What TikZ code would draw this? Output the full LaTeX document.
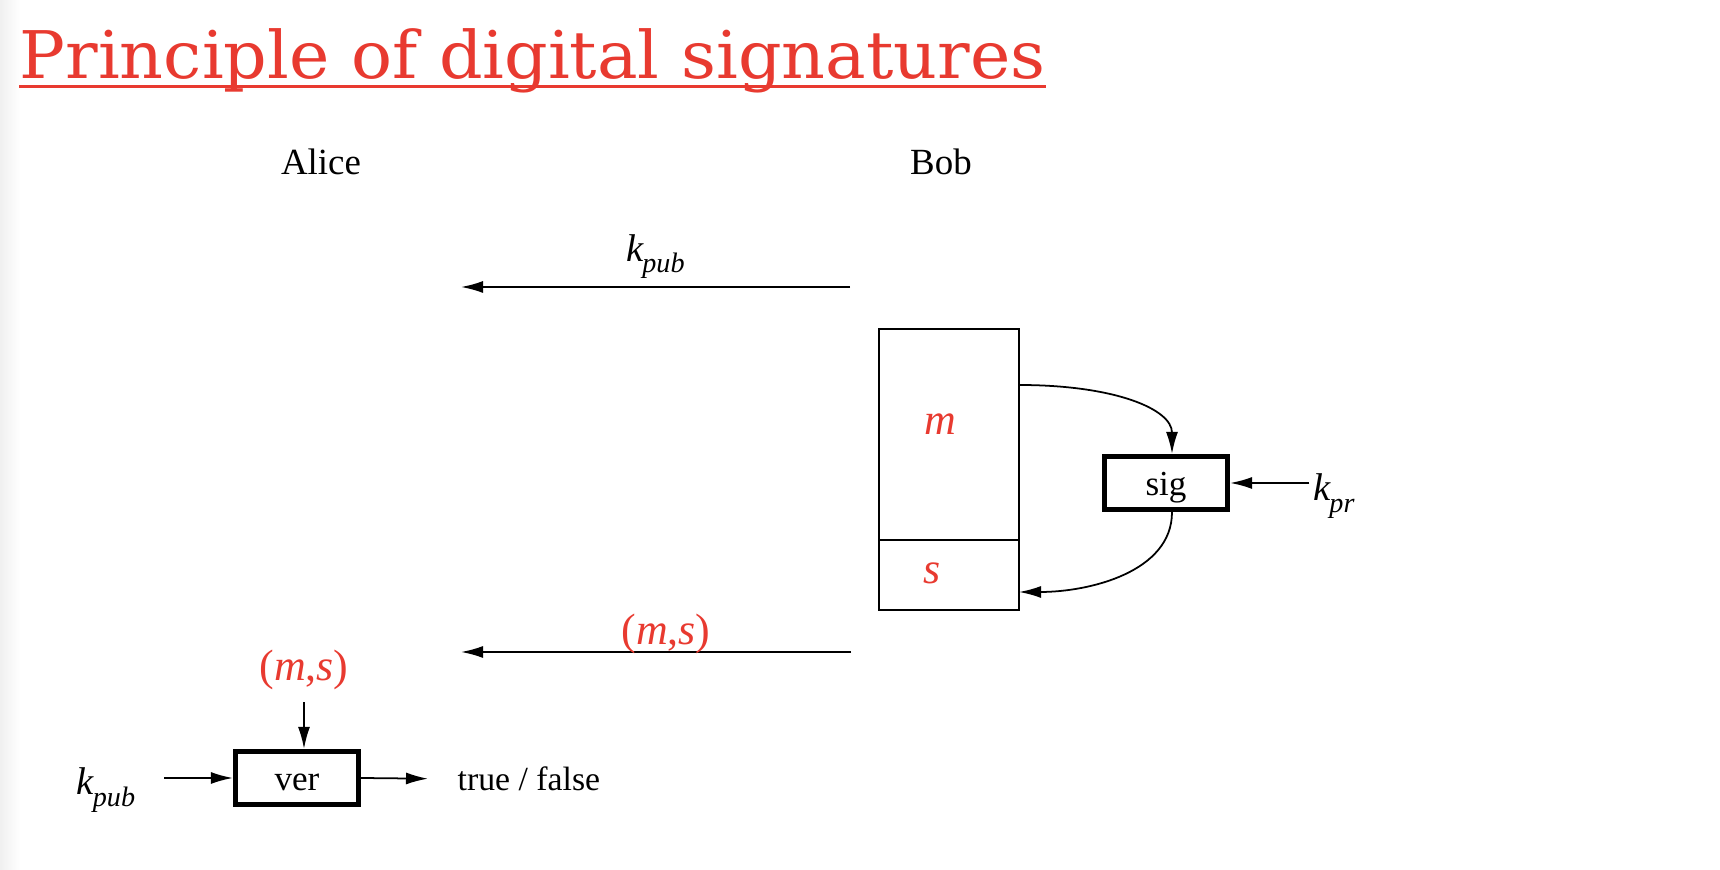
\documentclass[tikz,border=0pt]{standalone}
\usepackage{fontspec}
\setmainfont{Liberation Serif}
\newfontfamily\titlefont{DejaVu Serif}
\usepackage{xcolor}
\usetikzlibrary{arrows.meta,positioning}
\definecolor{slidered}{RGB}{232,58,48}
\newcommand{\keysub}[2]{\textit{#1}\kern-0.5pt\raisebox{-3.3pt}{\fontsize{8}{8}\selectfont\textit{#2}}}

\begin{document}
\begin{tikzpicture}[
  node distance=0.9cm and 1.0cm,
  party/.style={font=\fontsize{10.5}{12}\selectfont},
  plain/.style={font=\fontsize{9.6}{12}\selectfont},
  keylabel/.style={font=\fontsize{11}{12}\selectfont, inner sep=1pt},
  redtext/.style={text=slidered, font=\fontsize{12.5}{14}\selectfont},
  field/.style={draw, line width=0.6pt, minimum width=1.40cm, inner sep=0, outer sep=0},
  funcbox/.style={draw, line width=1.5pt, minimum width=1.23cm, minimum height=0.53cm, text height=7.4pt, text depth=0pt, font=\fontsize{10}{12}\selectfont},
  arrow/.style={-{Latex[length=2.2mm, width=1.2mm]}, line width=0.5pt}
]
\useasboundingbox (0,0) rectangle (17.2,-8.7);
\shade[left color=gray!12, right color=white] (0,0) rectangle (0.2,-8.7);

% title
\node[anchor=base west, inner sep=0, text=slidered, font=\fontsize{18.7}{22}\titlefont] (title) at (0.19,-0.79) {\scalebox{1.037}[1]{Principle of digital signatures}};
\draw[slidered, line width=0.9pt] ([yshift=-0.075cm]title.base west) -- ([yshift=-0.075cm]title.base east);

\node[party] (alice) at (3.21,-1.62) {Alice};
\node[party] (bob) at (9.41,-1.62) {Bob};

% public key to Alice
\coordinate (kfrom) at (8.50,-2.87);
\coordinate (kto) at (4.61,-2.87);
\draw[arrow] (kfrom) -- node[keylabel, above=0.04cm] {\keysub{k}{pub}} (kto);

% Bob signs
\node[field, minimum height=2.11cm, anchor=north west] (msg) at (8.79,-3.29) {};
\node[field, minimum height=0.70cm, below=0pt of msg] (sigpart) {};
\node[redtext] (mtext) at ([xshift=-0.09cm, yshift=0.1cm]msg.center) {\textit{m}};
\node[redtext] (stext) at ([xshift=-0.17cm, yshift=0.02cm]sigpart.center) {\textit{s}};
\node[funcbox] (sig) at (11.66,-4.83) {sig};
\node[keylabel] (kpr) at (13.34,-4.96) {\keysub{k}{pr}};
\draw[arrow] (kpr.west |- sig.east) -- (sig.east);
\draw[arrow] ([yshift=-0.56cm]msg.north east) .. controls +(0.95,0) and +(0,0.45) .. ([xshift=0.06cm]sig.north);
\draw[arrow] ([xshift=0.06cm]sig.south) .. controls +(0,-0.6) and +(0.7,0) .. ([yshift=-0.52cm]sigpart.north east);

% message and signature to Alice
\coordinate (msfrom) at (8.51,-6.52);
\coordinate (msto) at (4.61,-6.52);
\draw[arrow] (msfrom) -- node[redtext, xshift=0.1cm, yshift=0.18cm] {(\textit{m},\textit{s})} (msto);

% Alice verifies
\node[funcbox] (ver) at (2.97,-7.78) {ver};
\node[redtext] (msin) at (3.04,-6.70) {(\textit{m},\textit{s})};
\draw[arrow] (msin) -- (msin |- ver.north);
\node[keylabel] (kin) at (1.06,-7.90) {\keysub{k}{pub}};
\draw[arrow, shorten <=0.25cm] (kin.east |- ver.west) -- (ver.west);
\node[plain, anchor=west, inner sep=0] (result) at (4.57,-7.79) {true / false};
\draw[arrow, shorten >=0.29cm] (ver.east) -- (result.west);
\end{tikzpicture}
\end{document}
